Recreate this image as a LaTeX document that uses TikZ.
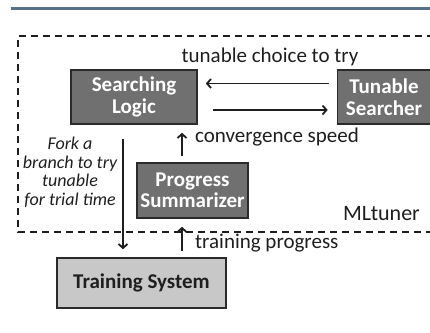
\documentclass[tikz,border=0pt]{standalone}
\usepackage{fontspec}
\setmainfont{Carlito}
\usetikzlibrary{arrows.meta}
\definecolor{barblue}{HTML}{56708A}
\definecolor{darkbox}{HTML}{707070}
\definecolor{lightbox}{HTML}{C8C8C8}
\definecolor{edge}{HTML}{2A2A2A}
\definecolor{ink}{HTML}{1E1E1E}
\begin{document}
\begin{tikzpicture}[x=1pt,y=-1pt,
  dkbox/.style={draw=edge,line width=1.6pt,fill=darkbox,text=white,inner sep=0pt,align=center,
     font=\fontsize{21}{21.5}\selectfont\bfseries},
  ltbox/.style={draw=edge,line width=1.6pt,fill=lightbox,text=ink,inner sep=0pt,align=center,
     font=\fontsize{21}{21.5}\selectfont\bfseries},
  lbl/.style={inner sep=0pt,text=ink,font=\fontsize{21}{23}\selectfont},
  arr/.style={line width=1.8pt,draw=ink,-{Straight Barb[length=4pt,width=9pt,line width=1.8pt]}},
  dashbox/.style={line width=1.8pt,draw=ink,dash pattern=on 7pt off 5pt}]
\useasboundingbox (0,0) rectangle (430,332);
\fill[barblue] (11,7) rectangle (432,10);
\draw[dashbox] (434,36) -- (18,36) -- (18,232) -- (434,232);
\node[dkbox,minimum width=126pt,minimum height=54pt] (sl) at (134,97) {Searching\\Logic};
\node[dkbox,minimum width=93pt,minimum height=54pt] (tsr) at (384,97) {Tunable\\Searcher};
\node[dkbox,minimum width=111pt,minimum height=55pt] (ps) at (192.5,190.5) {Progress\\Summarizer};
\node[ltbox,minimum width=169pt,minimum height=50pt] (trs) at (141.5,283) {Training System};
\node[lbl] (tct) at (270,57) {tunable choice to try};
\node[lbl,anchor=west] (cs) at (195,137) {convergence speed};
\node[lbl,anchor=west] (tp) at (195,243) {training progress};
\node[lbl,font=\fontsize{22}{24}\selectfont] (ml) at (381.5,214) {MLtuner};
\node[inner sep=0pt,align=center,text=ink,font=\fontsize{18}{18.5}\selectfont\itshape] (fork) at (70,172.5)
  {Fork a\\branch to try\\tunable\\for trial time};
\coordinate (fx) at (123,0);
\coordinate (cx) at (182,0);
\draw[arr,shorten <=8pt,shorten >=8pt] ([yshift=13.5pt]tsr.west) -- ([yshift=13.5pt]tsr.west -| sl.east);
\draw[arr,shorten <=15pt,shorten >=9pt] ([yshift=-13pt]sl.east) -- ([yshift=-13pt]sl.east -| tsr.west);
\draw[arr,shorten <=6pt,shorten >=8pt] (ps.north -| cx) -- (sl.south -| cx);
\draw[arr,shorten <=6pt,shorten >=8pt] (trs.north -| cx) -- (ps.south -| cx);
\draw[arr,shorten <=14pt,shorten >=8pt] (sl.south -| fx) -- (trs.north -| fx);
\end{tikzpicture}
\end{document}
